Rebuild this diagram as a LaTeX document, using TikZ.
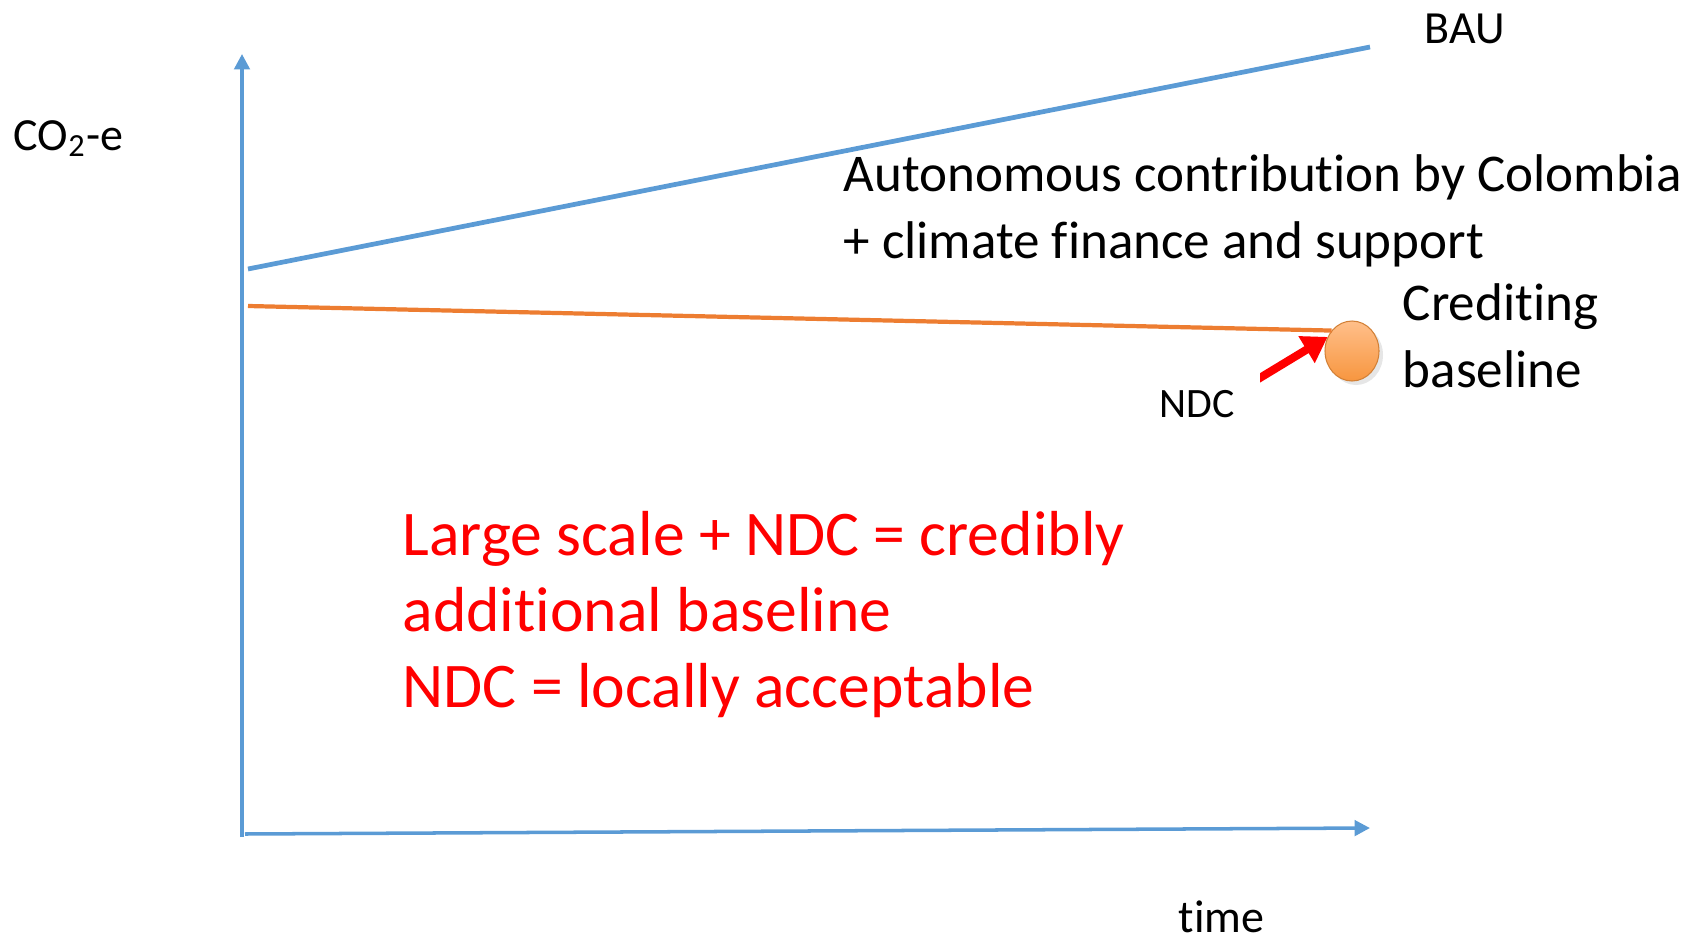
\documentclass[tikz,border=0pt]{standalone}
\usepackage{fontspec}
\setmainfont[Ligatures=NoCommon]{Carlito}
\usetikzlibrary{arrows.meta,positioning,shapes.geometric,shadows}
\definecolor{axisblue}{HTML}{5B9BD5}
\definecolor{ndcorange}{HTML}{ED7D31}
\definecolor{dotlight}{HTML}{FFBF8A}
\definecolor{dotdark}{HTML}{F7963F}
\definecolor{notered}{HTML}{FF0000}
\tikzset{
  axis/.style={draw=axisblue,line width=1pt,-{Triangle[length=4.4pt,width=4.4pt]}},
  bau/.style={draw=axisblue,line width=1.35pt},
  ndcline/.style={draw=ndcorange,line width=1.2pt},
  ndcarrow/.style={draw=notered,line width=2.3pt,-{Triangle[length=7pt,width=8.5pt]}},
  dot/.style={ellipse,minimum width=5.4mm,minimum height=6mm,inner sep=0pt,draw=dotdark!85!black,line width=.3pt,
    top color=dotlight,bottom color=dotdark,drop shadow={opacity=.2,shadow xshift=.4mm,shadow yshift=-.4mm}},
  axlabel/.style={font=\fontsize{13.1}{15.5}\selectfont,inner sep=0pt},
  smalllabel/.style={font=\fontsize{11.9}{14}\selectfont,fill=white,inner xsep=2.5mm,inner ysep=2.2mm},
  bigtext/.style={font=\fontsize{15.1}{18.9}\selectfont,align=left,inner sep=0pt},
  redtext/.style={font=\fontsize{18.1}{21.6}\selectfont,text=notered,align=left,inner sep=0pt},
}
\begin{document}
\begin{tikzpicture}
  \useasboundingbox (0,0) rectangle (16.97,9.40);

  % ---------------- axes ----------------
  \coordinate (origin) at (2.42,1.03);
  \coordinate (ytop) at (2.42,8.86);
  \coordinate (xstart) at (2.45,1.06);
  \coordinate (xend) at (13.70,1.12);
  \draw[axis] (origin) -- (ytop);
  \draw[axis] (xstart) -- (xend);
  \node[axlabel,anchor=base west] (ylab) at (0.13,7.90) {CO\textsubscript{2}-e};
  \node[axlabel,anchor=base west] (xlab) at (11.78,0.08) {time};

  % ---------------- emission paths ----------------
  \coordinate (bau0) at (2.48,6.71);
  \coordinate (bau1) at (13.70,8.93);
  \draw[bau] (bau0) -- (bau1);
  \node[axlabel,anchor=base west] (baulab) at (14.24,8.97) {BAU};

  % base anchor sits on the last line
  \node[bigtext,anchor=base west] (contrib) at (8.43,6.82)
    {Autonomous contribution by Colombia\\+ climate finance and support};

  \coordinate (ndc0) at (2.48,6.34);
  \node[dot] (dot) at (13.52,5.89) {};
  \draw[ndcline] (ndc0) -- (dot.135);
  \node[bigtext,anchor=base west] (credit) at (14.02,5.53) {Crediting\\baseline};

  % NDC pointer, tail hidden under the label
  \coordinate (ndctail) at (12.40,5.50);
  \draw[ndcarrow] (ndctail) -- (dot.150);
  \node[smalllabel,anchor=base west] (ndclab) at (11.34,5.23) {NDC};

  % ---------------- verdict ----------------
  \node[redtext,anchor=base west] (verdict) at (4.02,2.33)
    {Large scale + NDC = credibly\\additional baseline\\NDC = locally acceptable};
\end{tikzpicture}
\end{document}
